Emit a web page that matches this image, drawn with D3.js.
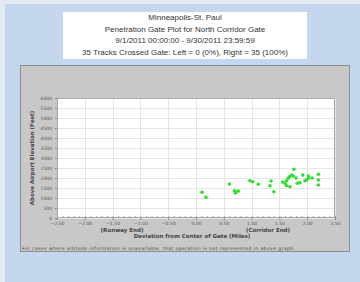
<!DOCTYPE html>
<html><head><meta charset="utf-8">
<script src="https://cdn.jsdelivr.net/npm/d3@7"></script>
<style>html,body{margin:0;padding:0;background:#e4eaf4;}svg{display:block;font-family:"Liberation Sans",Arial,sans-serif;}</style>
</head><body>
<script>
const titleLines = ["Minneapolis-St. Paul","Penetration Gate Plot for North Corridor Gate","9/1/2011 00:00:00 - 9/30/2011 23:59:59","35 Tracks Crossed Gate: Left = 0 (0%), Right = 35 (100%)"];
const xTicks = [-2.5,-2,-1.5,-1,-0.5,0,0.5,1,1.5,2,2.5];
const yTicks = [0,500,1000,1500,2000,2500,3000,3500,4000,4500,5000,5500,6000];
const deviationMiles = [0.11,0.18,0.60,0.69,0.72,0.76,0.71,0.97,1.02,1.12,1.35,1.33,1.40,1.63,1.66,1.68,1.60,1.63,1.69,1.76,1.72,1.75,1.82,1.87,1.92,1.96,1.99,2.02,2.02,2.20,2.20,2.20,1.56,1.80,2.09];
const altitudeFeet = [1285,1035,1700,1365,1300,1350,1250,1865,1815,1685,1850,1615,1315,1865,1985,2065,1735,1615,1565,2435,2150,2100,1735,1765,2150,1865,1900,1985,2100,2185,1900,1650,1800,2000,2000];
const xTitle = "Deviation from Center of Gate (Miles)";
const yTitle = "Above Airport Elevation (Feet)";
const leftEnd = "(Runway End)", rightEnd = "(Corridor End)";
const footnote = "For cases where altitude information is unavailable, that operation is not represented in above graph.";

const W=360,H=282;
const svg=d3.select("body").append("svg").attr("width",W).attr("height",H);
svg.append("rect").attr("x",5).attr("y",4).attr("width",355).attr("height",278).attr("fill","#c4d7ef");
svg.append("rect").attr("x",20.5).attr("y",65.5).attr("width",329).attr("height",186).attr("fill","#c8c8c8").attr("stroke","#8c8c8c");
svg.append("rect").attr("x",63).attr("y",12).attr("width",244).attr("height",47).attr("fill","#ffffff");
const tb=[20,32,43,55];
titleLines.forEach((t,i)=>svg.append("text").attr("x",185).attr("y",tb[i]).attr("text-anchor","middle").attr("font-size",8).attr("fill","#333").text(t));

const m={l:57,r:335,t:98,b:218};
const x=d3.scaleLinear().domain([-2.5,2.5]).range([m.l,m.r]);
const y=d3.scaleLinear().domain([0,6000]).range([m.b,m.t]);
svg.append("rect").attr("x",m.l).attr("y",m.t).attr("width",m.r-m.l).attr("height",m.b-m.t).attr("fill","#fff");
// grid
svg.append("g").selectAll("line").data(yTicks).join("line").attr("x1",m.l).attr("x2",m.r).attr("y1",d=>Math.round(y(d))+0.5).attr("y2",d=>Math.round(y(d))+0.5).attr("stroke","#e6e6e6");
svg.append("g").selectAll("line").data(xTicks).join("line").attr("y1",m.t).attr("y2",m.b).attr("x1",d=>Math.round(x(d))+0.5).attr("x2",d=>Math.round(x(d))+0.5).attr("stroke","#e6e6e6");
// minor ticks along bottom
const minor=d3.range(-25,26).map(d=>d/10);
svg.append("g").attr("transform",`translate(0,${m.b})`).call(d3.axisTop(x).tickValues(minor).tickSize(2).tickFormat("")).call(g=>{g.select(".domain").remove();g.selectAll("line").attr("stroke","#999");});
svg.append("rect").attr("x",m.l+0.5).attr("y",m.t+0.5).attr("width",m.r-m.l-1).attr("height",m.b-m.t-1).attr("fill","none").attr("stroke","#a8a8a8");
// axes
const xa=svg.append("g").attr("transform",`translate(0,${m.b})`).call(d3.axisBottom(x).tickValues(xTicks).tickSize(2).tickPadding(2).tickFormat(d3.format(".2f")));
xa.select(".domain").remove();
xa.selectAll("line").attr("stroke","#888");
xa.selectAll("text").attr("font-size",4.5).attr("fill","#555").attr("font-family","'DejaVu Sans',sans-serif");
const ya=svg.append("g").attr("transform",`translate(${m.l},0)`).call(d3.axisLeft(y).tickValues(yTicks).tickSize(2).tickPadding(3).tickFormat(d3.format("d")));
ya.select(".domain").remove();
ya.selectAll("line").attr("stroke","#888");
ya.selectAll("text").attr("font-size",4.5).attr("fill","#555").attr("font-family","'DejaVu Sans',sans-serif");
// points
svg.append("g").selectAll("circle").data(deviationMiles).join("circle").attr("cx",d=>x(d)).attr("cy",(d,i)=>y(altitudeFeet[i])).attr("r",1.8).attr("fill","#33dd33");
// labels
svg.append("text").attr("x",122).attr("y",232).attr("text-anchor","middle").attr("font-size",5.5).attr("font-weight","bold").attr("fill","#444").attr("font-family","'DejaVu Sans',sans-serif").text(leftEnd);
svg.append("text").attr("x",268).attr("y",232).attr("text-anchor","middle").attr("font-size",5.5).attr("font-weight","bold").attr("fill","#444").attr("font-family","'DejaVu Sans',sans-serif").text(rightEnd);
svg.append("text").attr("x",192).attr("y",238).attr("text-anchor","middle").attr("font-size",5.5).attr("font-weight","bold").attr("fill","#444").attr("font-family","'DejaVu Sans',sans-serif").text(xTitle);
svg.append("text").attr("transform","translate(34,158) rotate(-90)").attr("text-anchor","middle").attr("font-size",5.5).attr("font-weight","bold").attr("fill","#444").attr("font-family","'DejaVu Sans',sans-serif").text(yTitle);
svg.append("text").attr("x",22).attr("y",250).attr("font-size",4.5).attr("fill","#444").attr("font-family","'DejaVu Sans',sans-serif").attr("textLength",273).text(footnote);
</script>
</body></html>
